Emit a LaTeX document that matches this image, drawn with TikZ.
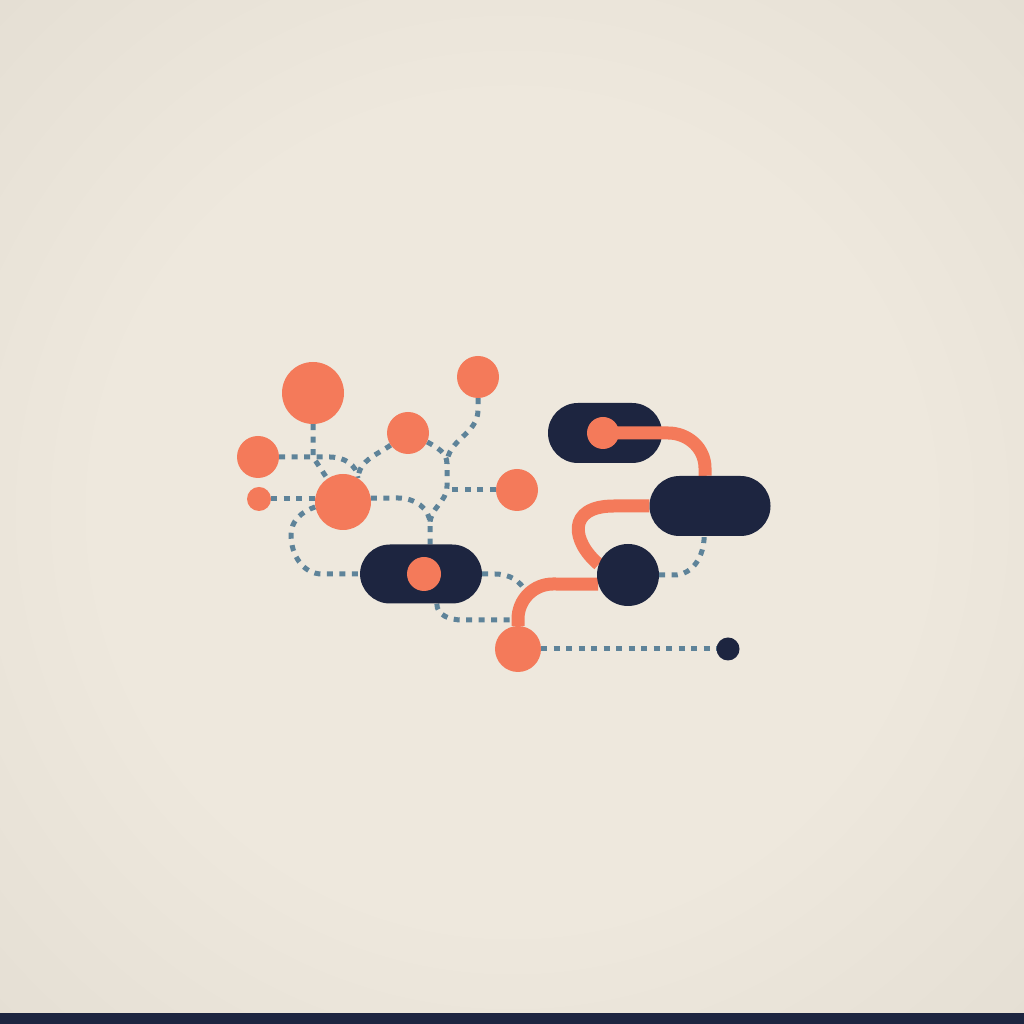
\documentclass[tikz,border=0pt]{standalone}
\usepackage{tikz}

\definecolor{paper}{HTML}{EEE8DD}
\definecolor{paperedge}{HTML}{D3CDC2}
\definecolor{coral}{HTML}{F47A5A}
\definecolor{navy}{HTML}{1D2540}
\definecolor{slate}{HTML}{5E8399}

\pgfdeclareradialshading{vignette}{\pgfpoint{0bp}{0bp}}{color(0bp)=(paper); color(20bp)=(paper); color(66bp)=(paperedge)}

\pgfdeclarelayer{back}
\pgfdeclarelayer{wires}
\pgfsetlayers{back,wires,main}

\begin{document}
\begin{tikzpicture}[x=1pt,y=1pt,
    dot/.style={circle, fill=coral, inner sep=0},
    hub/.style={circle, fill=navy, inner sep=0},
    pill/.style={rectangle, rounded corners=30pt, fill=navy, inner sep=0, minimum height=\pillh},
    trail/.style={slate, line width=5pt, dash pattern=on 6pt off 6.5pt},
    wire/.style={coral, line width=13pt}]
                \newcommand{\pillh}{60pt}
                \newcommand{\pagesize}{1024}

                \useasboundingbox (0,0) rectangle (\pagesize,\pagesize);

                % Draw paper and bottom bar
                \begin{pgfonlayer}{back}
                    \shade[shading=vignette] (0,0) rectangle (\pagesize,\pagesize);
                    \fill[navy] (0,0) rectangle (\pagesize,11);
                    \node[pill, minimum width=114pt] (P2) at (605,591) {};
                \end{pgfonlayer}

                % Draw coral seeds
                \foreach \name/\x/\y/\d in {A/313/631/62, B/478/647/42, C/408/591/42, D/258/567/42,
                                             E/259/525/24, F/343/522/56, G/517/534/42, H/518/375/46} {
                    \node[dot, minimum size=\d pt] (\name) at (\x,\y) {};
                }

                % Draw navy pills and hubs
                \node[pill, minimum width=122pt, minimum height=59pt] (P1) at (421,450) {};
                \node[dot, minimum size=34pt] (O1) at (424,450) {};
                \node[dot, minimum size=32pt] (O2) at (603,591) {};
                \node[pill, minimum width=121pt] (P3) at (710,518) {};
                \node[hub, minimum size=62pt] (N) at (628,449) {};
                \node[hub, minimum size=23pt] (S) at (728,375) {};
                \coordinate (tip1) at (527,431);
                \coordinate (tip2) at (512,404);

                \begin{pgfonlayer}{wires}
                    % Draw dotted trails
                    \draw[trail] (A.south) -- (313,567) -- (F.124);
                    \draw[trail] (D.east) -- (330,567) to[out=0,in=95] (F.58);
                    \draw[trail] (C.215) to[out=215,in=85] (F.58);
                    \draw[trail] (E.east) -- (F.west |- E.east);
                    \draw[trail] (F.190) to[out=200,in=90] (291,489) to[out=270,in=180] (322,450) -- (P1.west);
                    \draw[trail] (F.8) -- (398,526) to[out=0,in=90] (430,500) -- (P1.73);
                    \draw[trail] (C.-25) to[out=-30,in=90] (447,560) -- (447,538) to[out=270,in=90] (430,500);
                    \draw[trail] (B.south) -- (478,614) to[out=270,in=90] (447,560);
                    \draw[trail] (G.west) -- (449,534);
                    \draw[trail] (P1.east) -- (495,450) to[out=0,in=120] (tip1);
                    \draw[trail] (P1.-62) to[out=-90,in=180] (462,404) -- (tip2);
                    \draw[trail] (H.east) -- (S.west);
                    \draw[trail] (N.east) -- (674,449) to[out=0,in=-90] (P3.-101);

                    % Draw coral wires
                    \draw[wire] (O2.center) -- (668,591) to[out=0,in=90] (705,556) -- (P3.99);
                    \draw[wire] (P3.west) -- (614,518) .. controls (566,518) and (572,482) .. (N.160);
                    \draw[wire] (N.197) -- (553,440) to[out=180,in=90] (518,405) -- (H.north);
                \end{pgfonlayer}
            \end{tikzpicture}
\end{document}
